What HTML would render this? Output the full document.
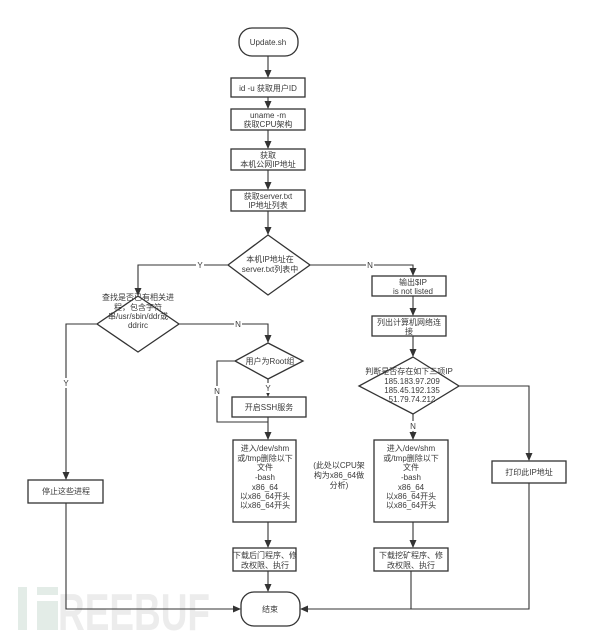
<!DOCTYPE html>
<html><head><meta charset="utf-8"><style>
html,body{margin:0;padding:0;background:#fff;width:600px;height:637px;overflow:hidden}
svg{display:block}
text{font-family:"Liberation Sans","Noto Sans CJK SC",sans-serif;font-size:8px;fill:#3a3a3a;text-anchor:middle}
.s{fill:#fff;stroke:#333;stroke-width:1.3}
.l{fill:none;stroke:#333;stroke-width:1.1}
</style></head><body>
<svg width="600" height="637" viewBox="0 0 600 637">
<defs><marker id="a" markerWidth="8" markerHeight="8" refX="7" refY="4" orient="auto" markerUnits="userSpaceOnUse"><path d="M0,0.5 L8,4 L0,7.5 z" fill="#333"/></marker></defs>
<g fill="#e3ece7">
<rect x="18" y="587" width="9" height="43"/>
<rect x="37" y="587" width="21" height="8"/>
<rect x="37" y="601" width="21" height="29"/>
</g>
<text x="134" y="630" style="font-size:52px;font-weight:bold;fill:#ececec;font-family:'Liberation Sans',sans-serif" textLength="152" lengthAdjust="spacingAndGlyphs">REEBUF</text>

<g class="l">
<line x1="268" y1="56" x2="268" y2="77" marker-end="url(#a)"/>
<line x1="268" y1="97" x2="268" y2="108" marker-end="url(#a)"/>
<line x1="268" y1="130" x2="268" y2="148" marker-end="url(#a)"/>
<line x1="268" y1="170" x2="268" y2="189" marker-end="url(#a)"/>
<line x1="268" y1="211" x2="268" y2="234" marker-end="url(#a)"/>
<polyline points="228,265 138,265 138,295" marker-end="url(#a)"/>
<polyline points="310,265 413,265 413,275" marker-end="url(#a)"/>
<polyline points="97,324 66,324 66,479" marker-end="url(#a)"/>
<polyline points="179,324 268,324 268,342" marker-end="url(#a)"/>
<line x1="268" y1="379" x2="268" y2="396" marker-end="url(#a)"/>
<polyline points="235,361 217,361 217,422 268,422"/>
<line x1="268" y1="417" x2="268" y2="439" marker-end="url(#a)"/>
<line x1="268" y1="522" x2="268" y2="547" marker-end="url(#a)"/>
<line x1="268" y1="571" x2="268" y2="591" marker-end="url(#a)"/>
<line x1="413" y1="296" x2="413" y2="315" marker-end="url(#a)"/>
<line x1="413" y1="336" x2="413" y2="356" marker-end="url(#a)"/>
<line x1="413" y1="414" x2="413" y2="439" marker-end="url(#a)"/>
<polyline points="459,386 529,386 529,460" marker-end="url(#a)"/>
<line x1="413" y1="522" x2="413" y2="547" marker-end="url(#a)"/>
<polyline points="66,503 66,609 240,609" marker-end="url(#a)"/>
<polyline points="529,483 529,609 301,609" marker-end="url(#a)"/>
<line x1="411" y1="571" x2="411" y2="609"/>
</g>
<g>
<rect x="196" y="260" width="8" height="10" fill="#fff"/><text x="200" y="268">Y</text>
<rect x="366" y="260" width="8" height="10" fill="#fff"/><text x="370" y="268">N</text>
<rect x="62" y="378" width="8" height="10" fill="#fff"/><text x="66" y="386">Y</text>
<rect x="234" y="319" width="8" height="10" fill="#fff"/><text x="238" y="327">N</text>
<rect x="213" y="386" width="8" height="10" fill="#fff"/><text x="217" y="394">N</text>
<rect x="264" y="383" width="8" height="10" fill="#fff"/><text x="268" y="391">Y</text>
<rect x="409" y="421" width="8" height="10" fill="#fff"/><text x="413" y="429">N</text>
</g>

<rect class="s" x="239" y="28" width="59" height="28" rx="13"/><text x="268" y="45">Update.sh</text>
<rect class="s" x="231" y="78" width="74" height="19"/><text x="268" y="91">id -u 获取用户ID</text>
<rect class="s" x="231" y="109" width="74" height="21"/><text x="268" y="118">uname -m</text><text x="268" y="127">获取CPU架构</text>
<rect class="s" x="231" y="149" width="74" height="21"/><text x="268" y="158">获取</text><text x="268" y="167">本机公网IP地址</text>
<rect class="s" x="231" y="190" width="74" height="21"/><text x="268" y="199">获取server.txt</text><text x="268" y="208">IP地址列表</text>
<polygon class="s" points="268,235 310,265 268,295 228,265"/><text x="270" y="262">本机IP地址在</text><text x="270" y="272">server.txt列表中</text>

<polygon class="s" points="138,296 179,324 138,352 97,324"/>
<text x="138" y="300">查找是否已有相关进</text><text x="138" y="310">程，包含字符</text><text x="138" y="319">串/usr/sbin/ddr或</text><text x="138" y="328">ddrirc</text>

<polygon class="s" points="268,343 303,361 268,379 235,361"/><text x="270" y="364">用户为Root组</text>
<rect class="s" x="232" y="397" width="74" height="20"/><text x="269" y="410">开启SSH服务</text>

<rect class="s" x="233" y="440" width="63" height="82"/>
<text x="265" y="451">进入/dev/shm</text><text x="265" y="461">或/tmp删除以下</text><text x="265" y="470">文件</text><text x="265" y="480">-bash</text><text x="265" y="490">x86_64</text><text x="265" y="499">以x86_64开头</text><text x="265" y="508">以x86_64开头</text>
<text x="339" y="468">(此处以CPU架</text><text x="339" y="478">构为x86_64做</text><text x="339" y="488">分析)</text>
<rect class="s" x="233" y="548" width="63" height="23"/><text x="265" y="558">下载后门程序、修</text><text x="265" y="568">改权限、执行</text>

<rect class="s" x="241" y="592" width="59" height="34" rx="13"/><text x="270" y="612">结束</text>

<rect class="s" x="28" y="480" width="75" height="23"/><text x="66" y="494">停止这些进程</text>

<rect class="s" x="372" y="276" width="74" height="20"/><text x="413" y="285">输出$IP</text><text x="413" y="294">is not listed</text>
<rect class="s" x="372" y="316" width="74" height="20"/><text x="409" y="325">列出计算机网络连</text><text x="409" y="334">接</text>
<polygon class="s" points="413,357 459,386 413,414 359,386"/>
<text x="409" y="374">判断是否存在如下三项IP</text><text x="412" y="384">185.183.97.209</text><text x="412" y="393">185.45.192.135</text><text x="412" y="402">51.79.74.212</text>
<rect class="s" x="374" y="440" width="74" height="82"/>
<text x="411" y="451">进入/dev/shm</text><text x="411" y="461">或/tmp删除以下</text><text x="411" y="470">文件</text><text x="411" y="480">-bash</text><text x="411" y="490">x86_64</text><text x="411" y="499">以x86_64开头</text><text x="411" y="508">以x86_64开头</text>
<rect class="s" x="374" y="548" width="74" height="23"/><text x="411" y="558">下载挖矿程序、修</text><text x="411" y="568">改权限、执行</text>
<rect class="s" x="492" y="461" width="74" height="22"/><text x="529" y="475">打印此IP地址</text>
</svg>
</body></html>
